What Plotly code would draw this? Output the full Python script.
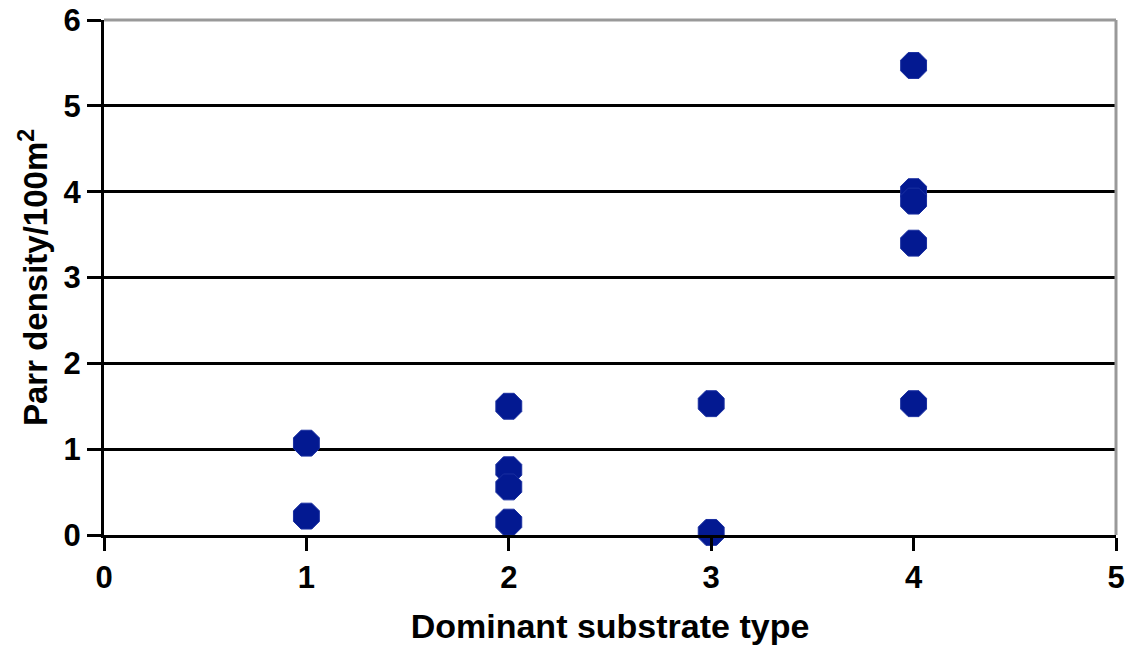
import plotly.graph_objects as go

substrate = [1, 1, 2, 2, 2, 2, 3, 3, 4, 4, 4, 4, 4]
density = [1.07, 0.22, 1.50, 0.76, 0.56, 0.15, 1.53, 0.03, 5.47, 4.00, 3.89, 3.40, 1.53]
x_ticks = [0, 1, 2, 3, 4, 5]
y_ticks = [0, 1, 2, 3, 4, 5, 6]

fig = go.Figure()
fig.add_trace(go.Scatter(
    x=substrate, y=density, mode="markers",
    marker=dict(symbol="octagon", size=28, color="#031991",
                line=dict(width=1, color="#1a2fa0")),
    showlegend=False, cliponaxis=False,
))

font_family = "Liberation Sans, Arial, sans-serif"
fig.update_layout(
    width=1128, height=655,
    margin=dict(l=104, r=12, t=20, b=120),
    paper_bgcolor="white", plot_bgcolor="white",
    font=dict(family=font_family, color="black"),
    xaxis=dict(
        range=[0, 5], tickvals=x_ticks, ticktext=[f"<b>{v}</b>" for v in x_ticks],
        showgrid=False, zeroline=False, automargin=False, ticklabeloverflow="allow",
        showline=True, linecolor="black", linewidth=3,
        ticks="outside", ticklen=13, tickwidth=3, tickcolor="black",
        tickfont=dict(size=31, family=font_family),
        title=dict(text="<b>Dominant substrate type</b>", font=dict(size=34), standoff=20),
    ),
    yaxis=dict(
        range=[0, 6], tickvals=y_ticks, ticktext=[f"<b>{v}</b>" for v in y_ticks],
        showgrid=True, gridcolor="black", gridwidth=3, zeroline=False, automargin=False,
        ticklabeloverflow="allow",
        showline=True, linecolor="black", linewidth=3,
        ticks="outside", ticklen=14, tickwidth=3, tickcolor="black",
        tickfont=dict(size=31, family=font_family),
        title=dict(text="<b>Parr density/100m<sup>2</sup></b>", font=dict(size=33), standoff=6),
    ),
    shapes=[
        dict(type="line", xref="paper", yref="paper", x0=0, x1=1, y0=1, y1=1,
             line=dict(color="#999999", width=3), layer="above"),
        dict(type="line", xref="paper", yref="paper", x0=1, x1=1, y0=0, y1=1,
             line=dict(color="#999999", width=3), layer="above"),
    ],
)

fig.write_html(
    "out.html",
    config={"displayModeBar": False},
    post_script="document.body.style.margin='0';document.body.style.overflow='hidden';",
)
